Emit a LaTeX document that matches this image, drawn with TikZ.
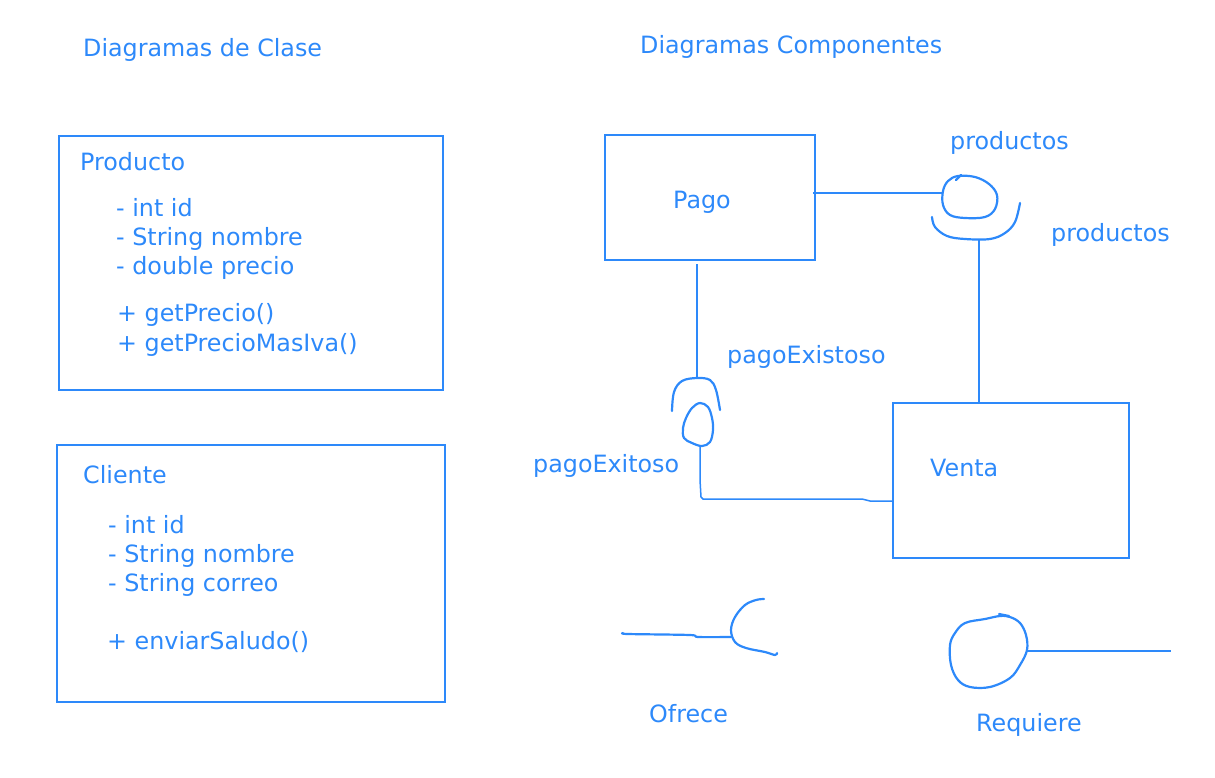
\documentclass[tikz,border=0pt]{standalone}
\usepackage{fontspec}
\setmainfont{DejaVu Sans}
\definecolor{ink}{RGB}{45,137,250}
\begin{document}
\begin{tikzpicture}[x=1pt,y=-1pt,
  box/.style={draw=ink,line width=1.5pt,inner sep=0pt},
  lbl/.style={text=ink,font=\fontsize{23.8}{28}\selectfont,anchor=base west,inner sep=0pt},
  hand/.style={draw=ink,line width=2.2pt,line cap=round,line join=round},
  wire/.style={draw=ink,line width=1.5pt}]
\useasboundingbox (0,0) rectangle (1215,777);
% titles
\node[lbl] (t1) at (83,56.5) {Diagramas de Clase};
\node[lbl] (t2) at (640,53) {Diagramas Componentes};
% class boxes
\node[box,minimum width=384pt,minimum height=254pt] (producto) at (251,263) {};
\node[lbl] (pn) at (80,170) {Producto};
\node[lbl] (p1) at (116,216) {- int id};
\node[lbl] (p2) at (116,245) {- String nombre};
\node[lbl] (p3) at (116,274) {- double precio};
\node[lbl] (p4) at (117,321) {+ getPrecio()};
\node[lbl] (p5) at (117,351) {+ getPrecioMasIva()};
\node[box,minimum width=388pt,minimum height=257pt] (cliente) at (251,573.5) {};
\node[lbl] (cn) at (83,483) {Cliente};
\node[lbl] (c1) at (108,533) {- int id};
\node[lbl] (c2) at (108,562) {- String nombre};
\node[lbl] (c3) at (108,591) {- String correo};
\node[lbl] (c4) at (107,649) {+ enviarSaludo()};
% component boxes
\node[box,minimum width=210pt,minimum height=125pt] (pago) at (710,197.5) {};
\node[lbl] (pagol) at (673,208) {Pago};
\node[box,minimum width=236pt,minimum height=155pt] (venta) at (1011,480.5) {};
\node[lbl] (vental) at (930,476) {Venta};
% labels
\node[lbl] (lp1) at (950,149) {productos};
\node[lbl] (lp2) at (1051,241) {productos};
\node[lbl] (lpe1) at (727,363) {pagoExistoso};
\node[lbl] (lpe2) at (533,472) {pagoExitoso};
\node[lbl] (lof) at (649,722) {Ofrece};
\node[lbl] (lrq) at (976,731) {Requiere};
% coordinates
\coordinate (pagoR) at (813,193);
\coordinate (b1w) at (943,193);
\coordinate (cup1b) at (979,240);
\coordinate (ventaT) at (979,403);
\coordinate (pagoB) at (697,264);
\coordinate (s2t) at (697,378);
\coordinate (b2b) at (700,447);
\coordinate (ventaL) at (893,501);
\coordinate (ofA) at (623,633);
\coordinate (ofB) at (731,637);
\coordinate (rqR) at (1027,651);
\coordinate (rqE) at (1171,651);
% top-right ball and socket
\draw[hand] plot[smooth cycle,tension=0.6] coordinates {(943,191) (948,181) (958,176) (975,177) (989,184) (997,195) (995,209) (985,217) (965,218) (950,215) (943,205)};
\draw[hand] (956,180) -- (961,175);
\draw[hand] plot[smooth,tension=0.6] coordinates {(932,217) (935,227) (947,236) (965,239) (990,239) (1005,233) (1015,222) (1020,203)};
\draw[wire] (pagoR) -- (b1w);
\draw[wire] (cup1b) -- (ventaT);
% middle socket and ball
\draw[wire] (pagoB) -- (s2t);
\draw[hand] plot[smooth,tension=0.6] coordinates {(672,411) (674,392) (682,381) (697,378) (710,380) (716,390) (720,410)};
\draw[hand] plot[smooth cycle,tension=0.6] coordinates {(700,403) (692,408) (686,418) (683,428) (684,438) (692,443) (702,446) (710,442) (713,430) (712,418) (708,407)};
\draw[wire] (b2b) -- (700,480) -- (701,497) -- (703,499) -- (862,499) -- (870,501) -- (ventaL);
% Ofrece
\draw[hand] plot[smooth,tension=0.5] coordinates {(ofA) (628,634) (690,635) (698,637) (ofB)};
\draw[hand] plot[smooth,tension=0.6] coordinates {(764,599) (756,600) (745,605) (735,617) (731,630) (735,642) (746,648) (765,652) (775,655) (777,653)};
% Requiere
\draw[hand] plot[smooth cycle,tension=0.6] coordinates {(1000,616) (985,619) (965,623) (955,633) (950,645) (951,665) (958,680) (970,687) (990,687) (1010,678) (1020,665) (1027,650) (1026,635) (1020,623) (1010,617)};
\draw[hand] (999,614) -- (1009,616);
\draw[wire] (rqR) -- (rqE);
\end{tikzpicture}
\end{document}
